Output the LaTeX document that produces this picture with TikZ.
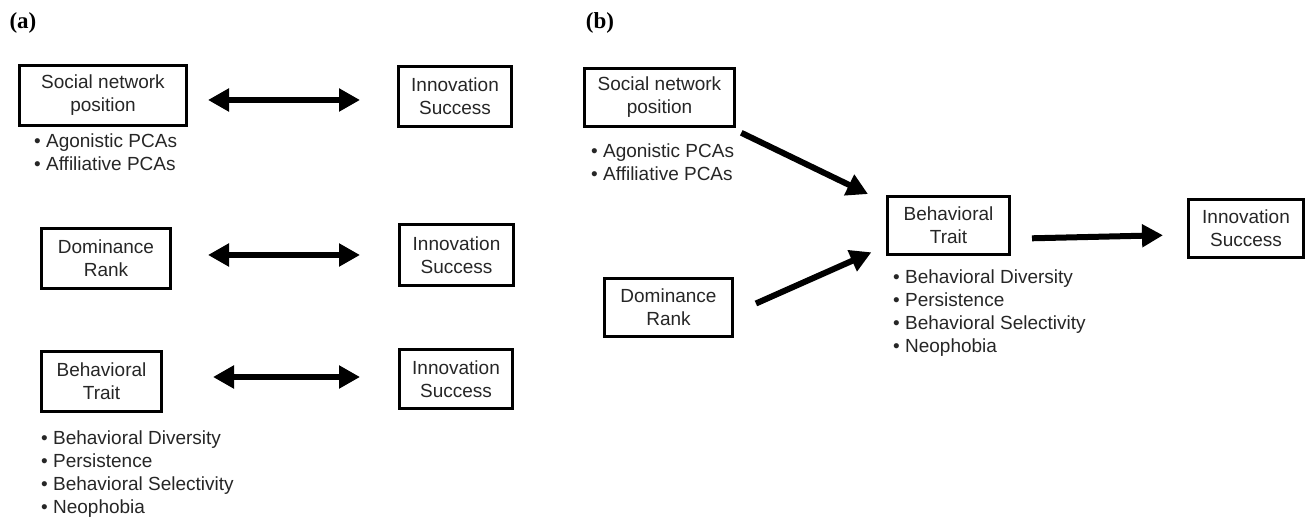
\documentclass[tikz,border=0pt]{standalone}
\usepackage{fontspec}
\setmainfont{Liberation Sans}
\newfontfamily\panelfont{Liberation Serif}
\usetikzlibrary{arrows.meta,positioning}
\tikzset{>={Triangle[length=21pt,width=22pt]}}
\tikzset{factor/.style={draw,line width=3pt,align=center,inner sep=2pt,
        text=black!85,font=\fontsize{19}{23}\selectfont}}
\tikzset{traits/.style={align=left,inner sep=0pt,text=black!85,
        font=\fontsize{19}{23}\selectfont}}
\tikzset{link/.style={line width=6pt}}
\tikzset{panel/.style={font=\panelfont\bfseries\fontsize{23}{26}\selectfont}}

\begin{document}
\begin{tikzpicture}[x=1pt,y=1pt]
    \useasboundingbox (0,0) rectangle (1307,-518);

    % panel labels
    \node[panel] (panelA) at (23,-23)  {(a)};
    \node[panel] (panelB) at (600,-23) {(b)};

    % (a) separate associations
    \node[factor,minimum width=167pt,minimum height=60pt] (snpA)  at (103,-95.5)  {Social network\\position};
    \node[factor,minimum width=113pt,minimum height=60pt] (innA1) at (455,-96.5)  {Innovation\\Success};
    \node[factor,minimum width=129pt,minimum height=60pt] (domA)  at (106,-258.5) {Dominance\\Rank};
    \node[factor,minimum width=114pt,minimum height=61pt] (innA2) at (456.5,-255) {Innovation\\Success};
    \node[factor,minimum width=120pt,minimum height=60pt] (btA)   at (101.5,-381.5) {Behavioral\\Trait};
    \node[factor,minimum width=113pt,minimum height=59pt] (innA3) at (456,-379)   {Innovation\\Success};

    \node[traits] (snpAlist) [below right=6.5pt and 16pt of snpA.south west]
        {• Agonistic PCAs\\• Affiliative PCAs};
    \node[traits] (btAlist) [below right=17.5pt and 1pt of btA.south west]
        {• Behavioral Diversity\\• Persistence\\• Behavioral Selectivity\\• Neophobia};

    \path[link,<->]
        ([yshift=-4.5pt]snpA.east) edge[shorten <=20pt,shorten >=37pt] ([yshift=-3.5pt]innA1.west)
        ([yshift=3.5pt]domA.east)  edge[shorten <=36pt,shorten >=38pt] (innA2.west)
        ([yshift=4.5pt]btA.east)   edge[shorten <=50pt,shorten >=38pt] ([yshift=2pt]innA3.west)
        ;

    % (b) mediated path
    \node[factor,minimum width=150pt,minimum height=58pt] (snpB) at (659.5,-97.5)  {Social network\\position};
    \node[factor,minimum width=128pt,minimum height=58pt] (drB)  at (668.5,-307.5) {Dominance\\Rank};
    \node[factor,minimum width=122pt,minimum height=58pt] (btB)  at (948.5,-225.5) {Behavioral\\Trait};
    \node[factor,minimum width=115pt,minimum height=58pt] (innB) at (1246,-228.5)  {Innovation\\Success};

    \node[traits] (snpBlist) [below right=15.5pt and 8pt of snpB.south west]
        {• Agonistic PCAs\\• Affiliative PCAs};
    \node[traits] (btBlist) [below right=14pt and 7pt of btB.south west]
        {• Behavioral Diversity\\• Persistence\\• Behavioral Selectivity\\• Neophobia};

    \path[link,->]
        (snpB.337) edge[shorten <=11pt,shorten >=20pt] (btB.160)
        (drB.-5)   edge[shorten <=24pt,shorten >=16pt] (btB.198)
        (btB.-12)  edge[shorten <=21pt,shorten >=24pt] (innB.186)
        ;
\end{tikzpicture}
\end{document}
